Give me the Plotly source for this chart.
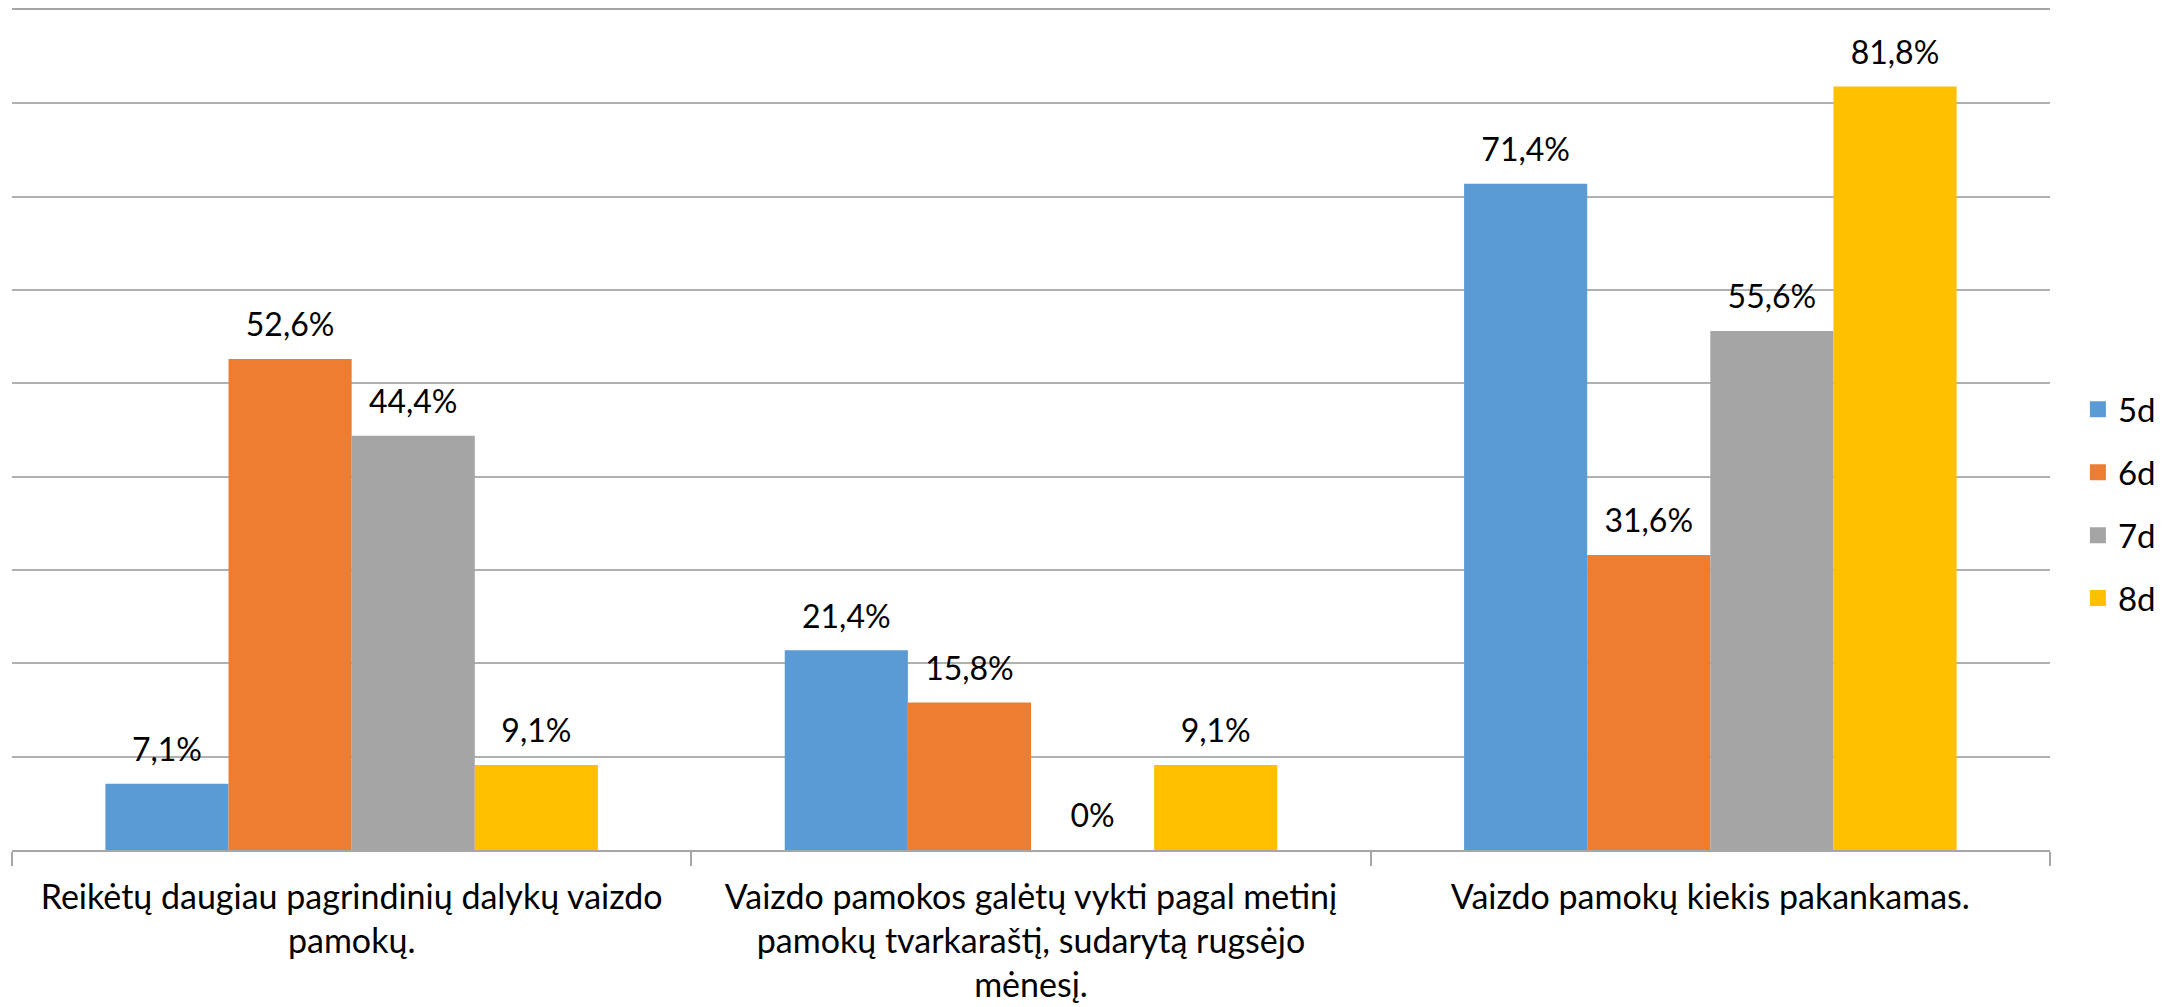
import plotly.graph_objects as go

categories = [
    "Reikėtų daugiau pagrindinių dalykų vaizdo<br>pamokų.",
    "Vaizdo pamokos galėtų vykti pagal metinį<br>pamokų tvarkaraštį, sudarytą rugsėjo<br>mėnesį.",
    "Vaizdo pamokų kiekis pakankamas.",
]
series_names = ["5d", "6d", "7d", "8d"]
values_5d = [0.071, 0.214, 0.714]
values_6d = [0.526, 0.158, 0.316]
values_7d = [0.444, 0.0, 0.556]
values_8d = [0.091, 0.091, 0.818]
labels_5d = ["7,1%", "21,4%", "71,4%"]
labels_6d = ["52,6%", "15,8%", "31,6%"]
labels_7d = ["44,4%", "0%", "55,6%"]
labels_8d = ["9,1%", "9,1%", "81,8%"]
colors = ["#5B9BD5", "#ED7D31", "#A5A5A5", "#FFC000"]

FONT = "Lato, 'Open Sans', sans-serif"
BAR_GAP = 0.275

fig = go.Figure()
all_vals = [values_5d, values_6d, values_7d, values_8d]
all_labs = [labels_5d, labels_6d, labels_7d, labels_8d]
for name, vals, col in zip(series_names, all_vals, colors):
    fig.add_trace(go.Bar(
        name=name, x=categories, y=vals, marker=dict(color=col, line=dict(width=0)),
        showlegend=False, hoverinfo="y",
    ))
# value labels, grouped like the bars
for name, vals, labs in zip(series_names, all_vals, all_labs):
    fig.add_trace(go.Scatter(
        x=categories, y=vals, text=labs, mode="markers+text",
        marker=dict(size=22, opacity=0), textposition="top center",
        textfont=dict(family=FONT, size=32, color="#000000"),
        showlegend=False, hoverinfo="skip", cliponaxis=False,
    ))
# legend entries (on a hidden overlay axis so they do not join the grouping)
for name, col in zip(series_names, colors):
    fig.add_trace(go.Scatter(
        x=[None], y=[None], name=name, mode="markers", legendgroup=name,
        marker=dict(symbol="square", size=16, color=col),
        xaxis="x2", yaxis="y2",
    ))

fig.update_layout(
    width=2167, height=999,
    margin=dict(l=4, r=125, t=2, b=157),
    paper_bgcolor="white", plot_bgcolor="white",
    barmode="group", bargap=BAR_GAP, bargroupgap=0,
    scattermode="group", scattergap=BAR_GAP,
    font=dict(family=FONT, size=32, color="#000000"),
    legend=dict(x=1.0137, y=0.412, xanchor="left", yanchor="middle",
                font=dict(family=FONT, size=33, color="#000000"),
                tracegroupgap=17, traceorder="grouped", itemwidth=30),
    showlegend=True,
    xaxis2=dict(overlaying="x", visible=False, range=[0, 1]),
    yaxis2=dict(overlaying="y", visible=False, range=[0, 1]),
    yaxis=dict(range=[0, 0.9001], dtick=0.1, showticklabels=False,
               showgrid=True, gridcolor="#B0B0B0", gridwidth=1.5,
               zeroline=False, showline=False, automargin=False),
    xaxis=dict(showline=True, mirror=True, linecolor="#A6A6A6", linewidth=1.5,
               ticks="outside", tickson="boundaries", ticklen=14,
               tickcolor="#A6A6A6", tickwidth=1.5,
               tickfont=dict(family=FONT, size=34, color="#000000"),
               tickangle=0, ticklabelstandoff=16, automargin=False),
)

fig.write_html("out.html")
